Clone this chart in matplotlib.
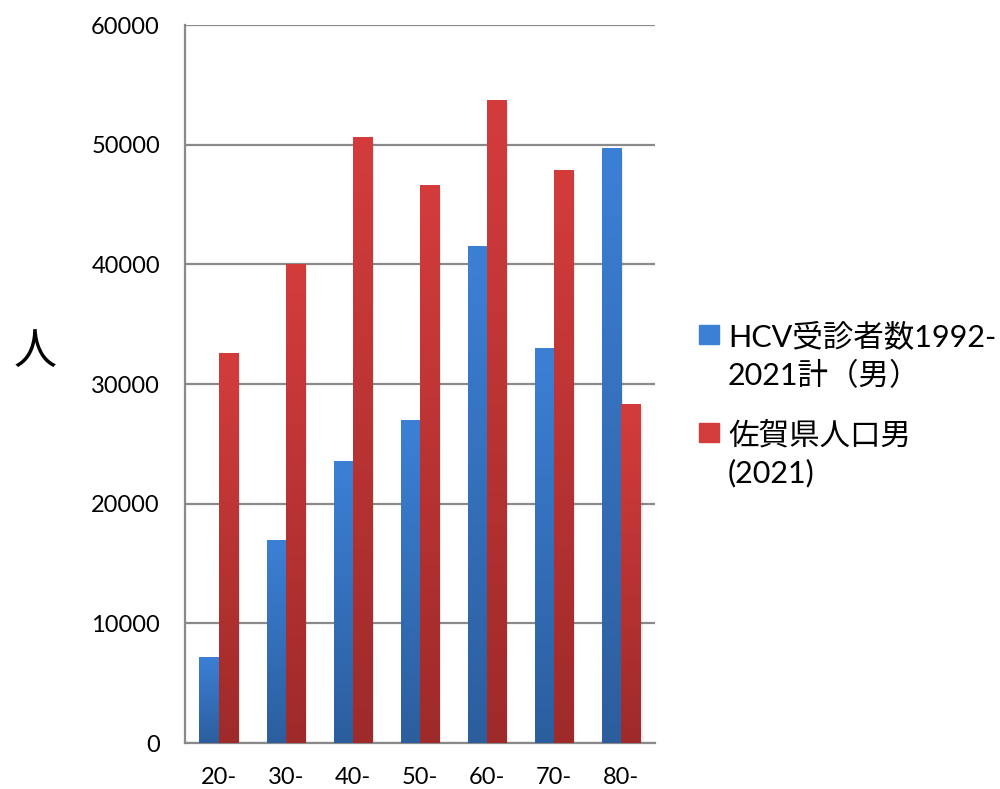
import numpy as np
import matplotlib
matplotlib.use("Agg")
import matplotlib.pyplot as plt
from matplotlib.colors import LinearSegmentedColormap
from matplotlib.patches import Rectangle

plt.rcParams['font.family'] = ['Lato', 'Noto Sans CJK JP', 'DejaVu Sans']

# data
ages = ['20-', '30-', '40-', '50-', '60-', '70-', '80-']
hcv_male = [7200, 17000, 23600, 27000, 41500, 33000, 49700]
saga_male_pop = [32600, 40000, 50600, 46600, 53700, 47900, 28300]
yticks = [0, 10000, 20000, 30000, 40000, 50000, 60000]
labels = ['HCV受診者数1992-\n2021計（男）', '佐賀県人口男\n(2021)']

blue_top, blue_bot = '#3c80d6', '#2c5e9e'
red_top, red_bot = '#d43c3c', '#9f2a2a'

fig = plt.figure(figsize=(10, 7.89), dpi=100)
ax = fig.add_axes([0.185, 0.0583, 0.47, 0.91])

x = np.arange(len(ages))
w = 0.285
b1 = ax.bar(x - w / 2, hcv_male, w, color='none', zorder=3)
b2 = ax.bar(x + w / 2, saga_male_pop, w, color='none', zorder=3)

grad = np.linspace(0, 1, 256).reshape(-1, 1)


def fill_gradient(bars, top, bot):
    cmap = LinearSegmentedColormap.from_list('g', [top, bot])
    for bar in bars:
        x0, y0 = bar.get_x(), bar.get_y()
        bw, bh = bar.get_width(), bar.get_height()
        # soft shadow on the right
        ax.add_patch(Rectangle((x0 + bw, y0), 0.03, bh - 300, color='#000000',
                               alpha=0.08, lw=0, zorder=2))
        im = ax.imshow(grad, cmap=cmap, aspect='auto', zorder=3,
                       extent=(x0, x0 + bw, y0, y0 + bh), origin='upper')
        im.set_clip_path(bar)


fill_gradient(b1, blue_top, blue_bot)
fill_gradient(b2, red_top, red_bot)

ax.set_xlim(-0.5, len(ages) - 0.5)
ax.set_ylim(0, 60000)
ax.set_yticks(yticks)
ax.set_yticklabels([str(v) for v in yticks], fontsize=17)
ax.set_xticks(x)
ax.set_xticklabels(ages, fontsize=17)
ax.tick_params(axis='both', length=0)
ax.tick_params(axis='y', pad=18)
ax.tick_params(axis='x', pad=17)

ax.grid(axis='y', color='#8a8a8a', lw=1.6, zorder=1)
ax.set_axisbelow(True)
for s in ['top', 'right']:
    ax.spines[s].set_visible(False)
for s in ['left', 'bottom']:
    ax.spines[s].set_color('#8a8a8a')
    ax.spines[s].set_linewidth(1.6)

fig.text(0.035, 0.554, '人', fontsize=31, ha='center', va='center')

# legend drawn by hand so the square sits next to the first line
leg_colors = [blue_top, red_top]
leg_sq_y = [0.564, 0.4398]
leg_txt_y = [0.5488, 0.4246]
for c, sy, ty, lab in zip(leg_colors, leg_sq_y, leg_txt_y, labels):
    fig.patches.append(Rectangle((0.699, sy), 0.02, 0.0241, color=c,
                                 transform=fig.transFigure, figure=fig))
    fig.text(0.728, ty, lab, fontsize=22, ha='left', va='center',
             linespacing=1.4)

fig.savefig('out.png', dpi=100)
